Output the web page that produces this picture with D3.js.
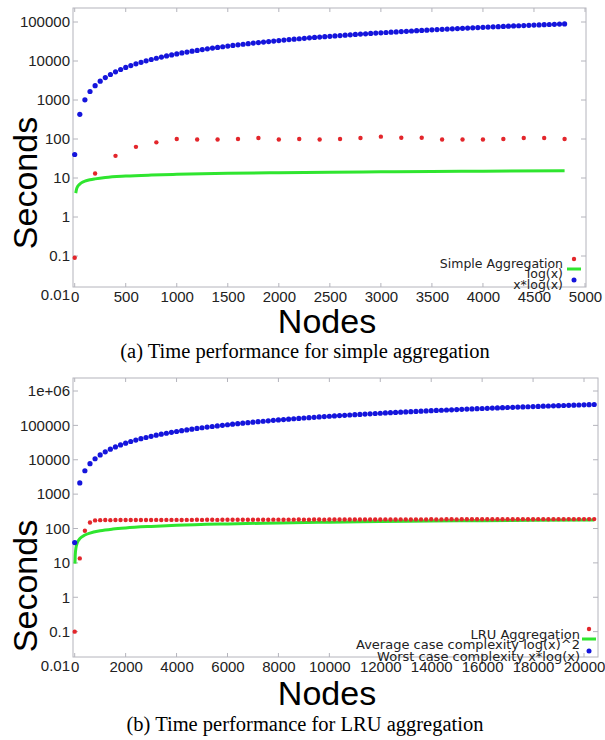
<!DOCTYPE html>
<html>
<head>
<meta charset="utf-8">
<script src="https://cdn.jsdelivr.net/npm/d3@7"></script>
<style>
  body { margin: 0; background: #fff; }
  svg { display: block; }
  .tick text { font-family: "Liberation Sans", Arial, sans-serif; font-size: 15px; fill: #222; }
  .legend text { font-family: "DejaVu Sans", sans-serif; fill: #222; }
</style>
</head>
<body>
<div id="chart"></div>
<script>
// ---- panel (a): simple aggregation ----
const simpleNodes = [0, 200, 400, 600, 800, 1000, 1200, 1400, 1600, 1800, 2000, 2200, 2400,
  2600, 2800, 3000, 3200, 3400, 3600, 3800, 4000, 4200, 4400, 4600, 4800];
const simpleTimes = [0.09, 13, 37, 63, 82, 100, 97, 97, 100, 106, 97, 100, 97,
  100, 106, 115, 108, 108, 97, 97, 97, 100, 106, 106, 100];

const logNodes = [10, 20, 30, 50, 75, 100, 150, 200, 300, 500, 750, 1000, 1500, 2000, 2500, 3000, 3500, 4000, 4800];
const logValues = [4.1, 5.4, 6.1, 7.0, 7.8, 8.3, 9.0, 9.5, 10.3, 11.2, 11.9, 12.4, 13.2, 13.7, 14.1, 14.4, 14.7, 14.9, 15.3];

const xlogNodesA = [0, 50, 100, 150, 200, 250, 300, 350, 400, 450, 500, 550, 600, 650, 700, 750, 800, 850, 900, 950,
  1000, 1050, 1100, 1150, 1200, 1250, 1300, 1350, 1400, 1450, 1500, 1550, 1600, 1650, 1700, 1750, 1800, 1850, 1900, 1950,
  2000, 2050, 2100, 2150, 2200, 2250, 2300, 2350, 2400, 2450, 2500, 2550, 2600, 2650, 2700, 2750, 2800, 2850, 2900, 2950,
  3000, 3050, 3100, 3150, 3200, 3250, 3300, 3350, 3400, 3450, 3500, 3550, 3600, 3650, 3700, 3750, 3800, 3850, 3900, 3950,
  4000, 4050, 4100, 4150, 4200, 4250, 4300, 4350, 4400, 4450, 4500, 4550, 4600, 4650, 4700, 4750, 4800];
const xlogValuesA = [40, 430, 1010, 1650, 2330, 3040, 3760, 4510, 5270, 6050, 6840, 7640, 8440, 9260, 10090, 10920, 11770, 12610, 13470, 14330,
  15200, 16070, 16950, 17830, 18720, 19610, 20510, 21410, 22310, 23220, 24130, 25050, 25970, 26890, 27820, 28750, 29680, 30620, 31560, 32500,
  33440, 34390, 35340, 36290, 37250, 38210, 39170, 40130, 41090, 42060, 43030, 44000, 44980, 45950, 46930, 47910, 48890, 49880, 50860, 51850,
  52840, 53830, 54830, 55820, 56820, 57820, 58820, 59820, 60830, 61830, 62840, 63850, 64860, 65860, 66880, 67900, 68910, 69930, 70950, 71960,
  72990, 74010, 75040, 76060, 77090, 78120, 79150, 80180, 81210, 82250, 83280, 84310, 85350, 86390, 87420, 88470, 89510];

const xTicksA = [0, 500, 1000, 1500, 2000, 2500, 3000, 3500, 4000, 4500, 5000];
const yTicksA = [0.01, 0.1, 1, 10, 100, 1000, 10000, 100000];
const yLabelsA = ["0.01", "0.1", "1", "10", "100", "1000", "10000", "100000"];

// ---- panel (b): LRU aggregation ----
const lruNodes = [0, 200, 400, 600, 800, 1000, 1200, 1400, 1600, 1800, 2000, 2200, 2400, 2600, 2800, 3000, 3200, 3400, 3600, 3800,
  4000, 4200, 4400, 4600, 4800, 5000, 5200, 5400, 5600, 5800, 6000, 6200, 6400, 6600, 6800, 7000, 7200, 7400, 7600, 7800,
  8000, 8200, 8400, 8600, 8800, 9000, 9200, 9400, 9600, 9800, 10000, 10200, 10400, 10600, 10800, 11000, 11200, 11400, 11600, 11800,
  12000, 12200, 12400, 12600, 12800, 13000, 13200, 13400, 13600, 13800, 14000, 14200, 14400, 14600, 14800, 15000, 15200, 15400, 15600, 15800,
  16000, 16200, 16400, 16600, 16800, 17000, 17200, 17400, 17600, 17800, 18000, 18200, 18400, 18600, 18800, 19000, 19200, 19400, 19600, 19800,
  20000, 20200, 20400];
const lruTimes = [0.1, 13.5, 86, 150, 172, 175, 176, 175, 176, 176, 177, 176, 177, 177, 176, 177, 178, 177, 178, 178,
  178, 177, 178, 178, 179, 178, 179, 179, 178, 179, 180, 179, 180, 179, 180, 180, 181, 180, 180, 181,
  181, 180, 181, 181, 182, 181, 181, 182, 182, 181, 182, 182, 183, 182, 182, 183, 183, 182, 183, 183,
  183, 184, 183, 183, 184, 184, 183, 184, 184, 184, 185, 184, 184, 185, 185, 184, 185, 185, 185, 186,
  185, 185, 186, 186, 185, 186, 186, 186, 187, 186, 186, 187, 187, 186, 187, 187, 187, 188, 187, 188,
  188, 188, 188];
const xlogValuesB = [39, 2120, 4790, 7680, 10700, 13800, 17000, 20300, 23600, 27000, 30400, 33900, 37400, 40900, 44400, 48000, 51700, 55300, 59000, 62600,
  66400, 70100, 73800, 77600, 81400, 85200, 89000, 92800, 96700, 100500, 104400, 108300, 112200, 116100, 120000, 123900, 127900, 131900, 135800, 139800,
  143800, 147800, 151800, 155800, 159800, 163900, 167900, 172000, 176000, 180100, 184200, 188300, 192400, 196500, 200600, 204700, 208800, 213000, 217100, 221300,
  225400, 229600, 233700, 237900, 242100, 246300, 250500, 254700, 258900, 263100, 267300, 271500, 275800, 280000, 284200, 288500, 292700, 297000, 301200, 305500,
  309800, 314000, 318300, 322600, 326900, 331200, 335500, 339800, 344100, 348400, 352700, 357000, 361400, 365700, 370000, 374400, 378700, 383100, 387400, 391800,
  396100, 400500, 404900];
const log2Nodes = [10, 20, 30, 50, 100, 200, 400, 600, 1000, 1500, 2000, 3000, 4000, 6000, 8000, 10000, 12000, 14000, 16000, 18000, 20400];
const log2Values = [9.5, 16.2, 20.8, 27.5, 38.2, 50.5, 64.6, 73.7, 85.9, 96.3, 104, 115, 124, 136, 145, 153, 159, 164, 169, 173, 177];

const xTicksB = [0, 2000, 4000, 6000, 8000, 10000, 12000, 14000, 16000, 18000, 20000];
const yTicksB = [0.01, 0.1, 1, 10, 100, 1000, 10000, 100000, 1000000];
const yLabelsB = ["0.01", "0.1", "1", "10", "100", "1000", "10000", "100000", "1e+06"];

const RED = "#e3262b", GREEN = "#2fe52f", BLUE = "#1515dc";

const svg = d3.select("#chart").append("svg")
  .attr("width", 605)
  .attr("height", 740);

function drawPanel(p) {
  const x = d3.scaleLinear().domain(p.xDomain).range(p.xRange);
  const y = d3.scaleLog().domain(p.yDomain).range(p.yRange);
  const g = svg.append("g");

  // frame
  g.append("rect")
    .attr("x", p.frame[0]).attr("y", p.frame[1])
    .attr("width", p.frame[2] - p.frame[0]).attr("height", p.frame[3] - p.frame[1])
    .attr("fill", "none").attr("stroke", "#b4b4bc").attr("stroke-width", 1);

  // inward tick marks on all four sides
  const yIn = p.yTicks.filter(v => y(v) >= p.frame[1] && y(v) <= p.frame[3]);
  yIn.forEach(v => {
    g.append("line").attr("x1", p.frame[0]).attr("x2", p.frame[0] + 5).attr("y1", y(v)).attr("y2", y(v))
      .attr("stroke", "#b4b4bc");
    g.append("line").attr("x1", p.frame[2]).attr("x2", p.frame[2] - 5).attr("y1", y(v)).attr("y2", y(v))
      .attr("stroke", "#b4b4bc");
  });
  p.xTicks.filter(v => x(v) <= p.frame[2]).forEach(v => {
    g.append("line").attr("x1", x(v)).attr("x2", x(v)).attr("y1", p.frame[3]).attr("y2", p.frame[3] - 4)
      .attr("stroke", "#b4b4bc");
    g.append("line").attr("x1", x(v)).attr("x2", x(v)).attr("y1", p.frame[1]).attr("y2", p.frame[1] + 4)
      .attr("stroke", "#b4b4bc");
  });

  // tick labels
  const yAxis = d3.axisLeft(y).tickValues(p.yTicks).tickSize(0).tickPadding(3)
    .tickFormat((d, i) => p.yLabels[i]);
  g.append("g").attr("transform", `translate(${p.frame[0]},0)`).call(yAxis)
    .call(a => a.select(".domain").remove());
  const xAxis = d3.axisBottom(x).tickValues(p.xTicks).tickSize(0).tickPadding(4.5)
    .tickFormat(d3.format("d"));
  g.append("g").attr("transform", `translate(0,${p.frame[3]})`).call(xAxis)
    .call(a => a.select(".domain").remove());

  // axis titles
  g.append("text")
    .attr("transform", `translate(37,${p.secondsY}) rotate(-90)`)
    .attr("text-anchor", "middle")
    .style("font-family", "'Liberation Sans', Arial, sans-serif")
    .style("font-size", "34px")
    .text("Seconds");
  g.append("text")
    .attr("x", 327).attr("y", p.nodesY)
    .attr("text-anchor", "middle")
    .style("font-family", "'Liberation Sans', Arial, sans-serif")
    .style("font-size", "34px")
    .text("Nodes");
  g.append("text")
    .attr("x", 305).attr("y", p.captionY)
    .attr("text-anchor", "middle")
    .style("font-family", "'Liberation Serif', 'Times New Roman', serif")
    .style("font-size", "20.5px")
    .text(p.caption);

  // series
  const line = d3.line().x(d => x(d[0])).y(d => y(d[1])).curve(d3.curveMonotoneX);
  g.append("path")
    .datum(p.lineNodes.map((n, i) => [n, p.lineValues[i]]))
    .attr("fill", "none").attr("stroke", GREEN).attr("stroke-width", 3)
    .attr("d", line);

  g.append("g").selectAll("circle")
    .data(p.blueNodes.map((n, i) => [n, p.blueValues[i]]))
    .enter().append("circle")
    .attr("cx", d => x(d[0])).attr("cy", d => y(d[1]))
    .attr("r", 2.6).attr("fill", BLUE);

  g.append("g").selectAll("circle")
    .data(p.redNodes.map((n, i) => [n, p.redValues[i]]))
    .enter().append("circle")
    .attr("cx", d => x(d[0])).attr("cy", d => y(d[1]))
    .attr("r", 2.2).attr("fill", RED);

  // legend (entries overlap slightly, as in the original gnuplot output)
  const lg = g.append("g").attr("class", "legend");
  const L = p.legend;
  L.names.forEach((name, i) => {
    lg.append("text")
      .attr("x", L.textX).attr("y", L.rows[i] + 5)
      .attr("dy", "0.35em")
      .attr("text-anchor", "end")
      .style("font-size", L.fontSize)
      .text(name);
  });
  lg.append("circle").attr("cx", L.symX).attr("cy", L.rows[0]).attr("r", 2.2).attr("fill", RED);
  lg.append("line").attr("x1", L.symX - 7).attr("x2", L.symX + 7)
    .attr("y1", L.rows[1]).attr("y2", L.rows[1]).attr("stroke", GREEN).attr("stroke-width", 3);
  lg.append("circle").attr("cx", L.symX).attr("cy", L.rows[2]).attr("r", 2.5).attr("fill", BLUE);
}

drawPanel({
  frame: [73, 8, 586, 287],
  xDomain: [0, 5000], xRange: [74.7, 585],
  yDomain: [0.01, 100000], yRange: [295, 22],
  xTicks: xTicksA, yTicks: yTicksA, yLabels: yLabelsA,
  redNodes: simpleNodes, redValues: simpleTimes,
  lineNodes: logNodes, lineValues: logValues,
  blueNodes: xlogNodesA, blueValues: xlogValuesA,
  secondsY: 183, nodesY: 333, captionY: 358,
  caption: "(a) Time performance for simple aggregation",
  legend: { names: ["Simple Aggregation", "log(x)", "x*log(x)"], rows: [259, 269, 280], textX: 563, symX: 574, fontSize: "12.5px" }
});

drawPanel({
  frame: [73, 378, 598, 657],
  xDomain: [0, 20000], xRange: [74.7, 584],
  yDomain: [0.01, 1000000], yRange: [666, 391],
  xTicks: xTicksB, yTicks: yTicksB, yLabels: yLabelsB,
  redNodes: lruNodes, redValues: lruTimes,
  lineNodes: log2Nodes, lineValues: log2Values,
  blueNodes: lruNodes, blueValues: xlogValuesB,
  secondsY: 586, nodesY: 705, captionY: 731,
  caption: "(b) Time performance for LRU aggregation",
  legend: { names: ["LRU Aggregation", "Average case complexity log(x)^2", "Worst case complexity x*log(x)"], rows: [629, 639, 651], textX: 580, symX: 589, fontSize: "13px" }
});
</script>
</body>
</html>
